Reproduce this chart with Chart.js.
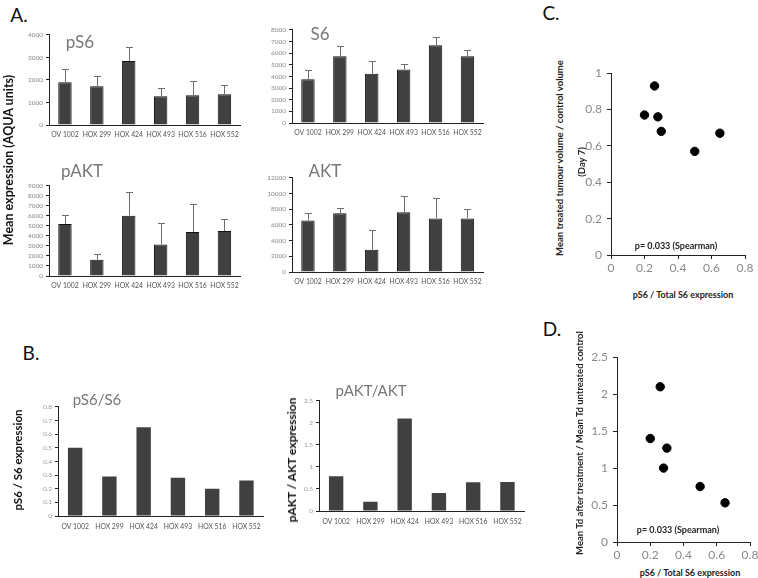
<!DOCTYPE html>
<html><head><meta charset="utf-8">
<script src="https://cdn.jsdelivr.net/npm/chart.js@4.4.1/dist/chart.umd.min.js"></script>
<style>
body{margin:0;background:#fff;width:758px;height:578px;overflow:hidden;position:relative;font-family:Lato,'Open Sans',sans-serif;}
canvas{position:absolute;}
.t{position:absolute;white-space:nowrap;line-height:1;}
</style></head><body>
<script>
// ---------- data ----------
const categories = ['OV 1002','HOX 299','HOX 424','HOX 493','HOX 516','HOX 552'];
const pS6 = [1900,1720,2840,1280,1320,1370];
const pS6Err = [580,440,630,350,650,390];
const S6 = [3760,5730,4240,4600,6690,5730];
const S6Err = [760,850,1100,460,740,540];
const pAKT = [5200,1620,6030,3150,4400,4500];
const pAKTErr = [890,600,2380,2180,2790,1200];
const AKT = [6570,7490,2850,7620,6820,6820];
const AKTErr = [960,670,2470,2050,2680,1210];
const pS6Ratio = [0.50,0.29,0.65,0.28,0.20,0.26];
const pAKTRatio = [0.79,0.21,2.10,0.41,0.65,0.66];
const volumeX = [0.20,0.26,0.28,0.30,0.50,0.65];
const volumeRatio = [0.77,0.93,0.76,0.68,0.57,0.67];
const tdX = [0.20,0.26,0.30,0.28,0.50,0.65];
const tdRatio = [1.40,2.10,1.27,1.00,0.75,0.53];

// ---------- helpers ----------
const fmt = v => String(+(+v).toFixed(2));
function txt(text, x, y, css, rot){
  const d = document.createElement('div');
  d.className = 't';
  d.textContent = text;
  d.style.left = x + 'px'; d.style.top = y + 'px';
  d.style.transform = 'translate(-50%,-50%)' + (rot ? ' rotate(-90deg)' : '');
  d.style.cssText += ';' + css;
  document.body.appendChild(d);
}
function makeCanvas(l,t,w,h){
  const c = document.createElement('canvas');
  c.width = w; c.height = h;
  c.style.left = l+'px'; c.style.top = t+'px';
  c.style.width = w+'px'; c.style.height = h+'px';
  document.body.appendChild(c);
  return c;
}
const errorBars = {
  id:'errbars',
  afterDatasetsDraw(chart, args, opts){
    const errs = opts.errors; if(!errs) return;
    const meta = chart.getDatasetMeta(0);
    const ys = chart.scales.y, ctx = chart.ctx;
    ctx.save(); ctx.strokeStyle = '#6e6e6e'; ctx.lineWidth = 1;
    meta.data.forEach((bar,i)=>{
      const v = chart.data.datasets[0].data[i];
      const yt = Math.round(ys.getPixelForValue(v + errs[i])) + 0.5;
      const x = Math.round(bar.x) + 0.5;
      ctx.beginPath();
      ctx.moveTo(x, bar.y); ctx.lineTo(x, yt);
      ctx.moveTo(x-3.5, yt); ctx.lineTo(x+3.5, yt);
      ctx.stroke();
    });
    ctx.restore();
  }
};

function barChart(box, values, errs, yMax, yStep, bordered, tickColor, xPad){
  const YW = 40, PT = 6, PR = 4, XH = 20;
  const c = makeCanvas(box.l-YW, box.t-PT, box.r-box.l+YW+PR, box.b-box.t+PT+XH);
  new Chart(c, {
    type:'bar',
    data:{labels:categories, datasets:[{data:values, backgroundColor:'#404040',
      borderColor:'#111', borderWidth: bordered ? 1 : 0,
      categoryPercentage:1, barPercentage:0.42}]},
    options:{
      responsive:false, animation:false, devicePixelRatio:1,
      layout:{padding:{top:PT,right:PR,left:0,bottom:0}},
      plugins:{legend:{display:false}, tooltip:{enabled:false}, errbars:{errors:errs}},
      scales:{
        x:{grid:{display:false, drawTicks:false}, border:{display:true,color:'#222',width:1},
           ticks:{font:{size:6.8,family:'Lato'}, color:'#555', maxRotation:0, autoSkip:false, padding:xPad},
           afterFit:s=>{s.height = XH;}},
        y:{min:0, max:yMax, grid:{drawOnChartArea:false, drawTicks:true, tickLength:3, color:'#222'},
           border:{display:true,color:'#222',width:1},
           ticks:{stepSize:yStep, autoSkip:false, font:{size:6.5,family:'Lato'}, color:tickColor, padding:3, callback:fmt},
           afterFit:s=>{s.width = YW;}}
      }
    },
    plugins: errs ? [errorBars] : []
  });
}

function scatterChart(box, xs, ys, yMax, yStep){
  const YW = 32, PT = 8, PR = 12, XH = 24;
  const c = makeCanvas(box.l-YW, box.t-PT, box.r-box.l+YW+PR, box.b-box.t+PT+XH);
  new Chart(c, {
    type:'scatter',
    data:{datasets:[{data: xs.map((x,i)=>({x:x, y:ys[i]})), backgroundColor:'#000', borderColor:'#000',
      pointRadius:4.2, pointHoverRadius:4.2}]},
    options:{
      responsive:false, animation:false, devicePixelRatio:1,
      layout:{padding:{top:PT,right:PR,left:0,bottom:0}},
      plugins:{legend:{display:false}, tooltip:{enabled:false}},
      scales:{
        x:{type:'linear', min:0, max:0.8, grid:{drawOnChartArea:false, drawTicks:true, tickLength:4, color:'#222'},
           border:{display:true,color:'#222',width:1},
           ticks:{stepSize:0.2, font:{size:12,family:'Lato'}, color:'#8a8a8a', padding:2, callback:fmt},
           afterFit:s=>{s.height = XH;}},
        y:{min:0, max:yMax, grid:{drawOnChartArea:false, drawTicks:true, tickLength:4, color:'#222'},
           border:{display:true,color:'#222',width:1},
           ticks:{stepSize:yStep, font:{size:12,family:'Lato'}, color:'#8a8a8a', padding:5, callback:fmt},
           afterFit:s=>{s.width = YW;}}
      }
    }
  });
}

// ---------- panel A ----------
barChart({l:49,r:241,t:34,b:125}, pS6, pS6Err, 4000, 1000, true, '#888', 6);
barChart({l:292,r:484,t:29,b:123}, S6, S6Err, 8000, 1000, true, '#888', 6);
barChart({l:49,r:241,t:185,b:276}, pAKT, pAKTErr, 9000, 1000, true, '#888', 6);
barChart({l:292,r:484,t:177,b:272}, AKT, AKTErr, 12000, 2000, true, '#888', 6);
// ---------- panel B ----------
barChart({l:58,r:264,t:406,b:516}, pS6Ratio, null, 0.8, 0.1, false, '#999', 7);
barChart({l:319,r:525,t:400,b:511}, pAKTRatio, null, 2.5, 0.5, false, '#999', 7);
// ---------- panels C, D ----------
scatterChart({l:611,r:745,t:69,b:255}, volumeX, volumeRatio, 1, 0.2);
scatterChart({l:617,r:750,t:353,b:542}, tdX, tdRatio, 2.5, 0.5);

// ---------- text ----------
const panelCss = 'font-size:19px;color:#111;';
txt('A.', 19, 14, panelCss);
txt('B.', 31, 352, panelCss);
txt('C.', 551, 12, panelCss);
txt('D.', 552, 328, panelCss);

const chartTitle = 'font-size:17px;color:#777;';
txt('pS6', 80, 41, chartTitle);
txt('S6', 320, 33, chartTitle);
txt('pAKT', 82, 170, chartTitle);
txt('AKT', 325, 170, chartTitle);
txt('pS6/S6', 97, 399, 'font-size:15px;color:#777;');
txt('pAKT/AKT', 371, 390, 'font-size:15px;color:#777;');

txt('Mean expression (AQUA units)', 9, 160, 'font-size:12.5px;font-weight:bold;color:#111;', true);
txt('pS6 / S6 expression', 18, 460, 'font-size:11.5px;font-weight:bold;color:#111;', true);
txt('pAKT / AKT expression', 292, 460, 'font-size:12px;font-weight:bold;color:#111;', true);

const axTitle = 'font-size:9.5px;font-weight:bold;color:#222;';
txt('Mean treated tumour volume / control volume', 560, 158, axTitle, true);
txt('(Day 7)', 582, 162, axTitle, true);
txt('pS6 / Total  S6 expression', 683, 294, 'font-size:9px;font-weight:bold;color:#222;');
txt('p= 0.033 (Spearman)', 676, 245, 'font-size:9px;font-weight:bold;color:#222;');
txt('Mean Td after treatment / Mean Td untreated control', 580, 443, axTitle, true);
txt('pS6 / Total  S6 expression', 690, 572, 'font-size:9px;font-weight:bold;color:#222;');
txt('p= 0.033 (Spearman)', 678, 529, 'font-size:9px;font-weight:bold;color:#222;');
</script>
</body></html>
